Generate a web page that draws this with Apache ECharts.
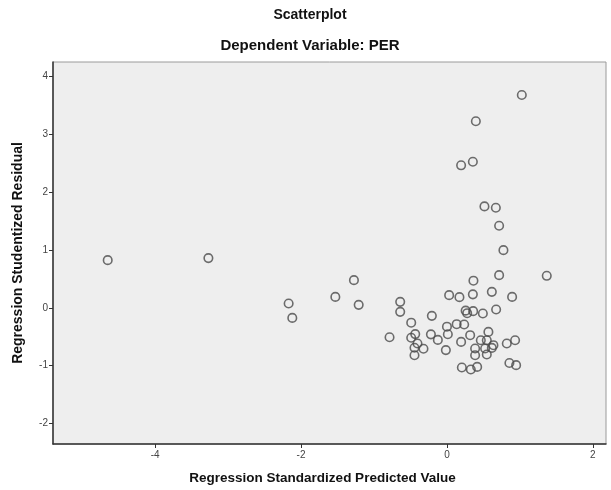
<!DOCTYPE html>
<html>
<head>
<meta charset="utf-8">
<script src="https://cdn.jsdelivr.net/npm/echarts@6/dist/echarts.min.js"></script>
<style>html,body{margin:0;padding:0;background:#fff}#c{width:611px;height:490px}</style>
</head>
<body>
<div id="c"></div>
<script>
const titleText = "Scatterplot";
const subtitleText = "Dependent Variable: PER";
const xAxisTitle = "Regression Standardized Predicted Value";
const yAxisTitle = "Regression Studentized Residual";
const xTicks = [-4, -2, 0, 2];
const yTicks = [-2, -1, 0, 1, 2, 3, 4];
const predicted = [
  -4.65, -3.27, -2.17, -2.12, -1.53, -1.275, -1.21,
  -0.641, -0.641, -0.49, -0.207, -0.787, -0.49, -0.435, -0.404, -0.445, -0.322, -0.445,
  -0.22, -0.125, 0.0, 0.012, -0.015, 0.133, 0.236, 0.194, 0.204, 0.327, 0.414,
  0.03, 0.171, 0.355, 0.615, 0.893, 0.363, 0.256, 0.277, 0.359, 0.492, 0.674,
  0.318, 0.568, 0.386, 0.464, 0.546, 0.523, 0.615, 0.637, 0.546, 0.386, 0.82, 0.934, 0.856, 0.948,
  1.026, 0.396, 0.194, 0.355, 0.514, 0.67, 0.715, 0.774, 0.715, 1.368
];
const residual = [
  0.825, 0.86, 0.076, -0.173, 0.19, 0.479, 0.052,
  0.104, -0.069, -0.256, -0.138, -0.507, -0.516, -0.453, -0.616, -0.69, -0.706, -0.818,
  -0.458, -0.554, -0.325, -0.455, -0.73, -0.282, -0.287, -0.588, -1.03, -1.066, -1.02,
  0.22, 0.185, 0.234, 0.277, 0.19, 0.47, -0.048, -0.092, -0.057, -0.097, -0.028,
  -0.472, -0.415, -0.702, -0.559, -0.559, -0.702, -0.692, -0.645, -0.806, -0.818, -0.616, -0.559, -0.952, -0.99,
  3.68, 3.225, 2.464, 2.526, 1.754, 1.73, 1.419, 0.998, 0.566, 0.554
];
const points = predicted.map((x, i) => [x, residual[i]]);

const chart = echarts.init(document.getElementById('c'), null, {renderer: 'canvas'});
const fam = 'Liberation Sans, Arial, sans-serif';
const labelFont = {fontFamily: fam, fontSize: 10, color: '#444'};
chart.setOption({
  animation: false,
  backgroundColor: '#ffffff',
  title: [
    {text: titleText, left: 305, textAlign: 'center', top: 3,
     textStyle: {fontFamily: fam, fontWeight: 'bold', fontSize: 14, color: '#111'}},
    {text: subtitleText, left: 305, textAlign: 'center', top: 33,
     textStyle: {fontFamily: fam, fontWeight: 'bold', fontSize: 15, color: '#111'}}
  ],
  grid: {left: 53, top: 62, right: 5, bottom: 46, show: true,
         backgroundColor: '#eeeeee', borderColor: '#9a9a9a', borderWidth: 1},
  xAxis: {
    type: 'value', min: -5.4, max: 2.18,
    name: xAxisTitle, nameLocation: 'middle', nameGap: 27,
    nameTextStyle: {fontFamily: fam, fontWeight: 'bold', fontSize: 13.5, color: '#111', padding: [0, 14, 0, 0]},
    axisLine: {show: true, onZero: false, lineStyle: {color: '#333', width: 1.5}},
    axisTick: {show: true, length: 4, customValues: xTicks, lineStyle: {color: '#333'}},
    axisLabel: Object.assign({customValues: xTicks, margin: 6}, labelFont),
    splitLine: {show: false}
  },
  yAxis: {
    type: 'value', min: -2.353, max: 4.25,
    name: yAxisTitle, nameLocation: 'middle', nameGap: 28, nameRotate: 90,
    nameTextStyle: {fontFamily: fam, fontWeight: 'bold', fontSize: 14, color: '#111'},
    axisLine: {show: true, onZero: false, lineStyle: {color: '#333', width: 1.5}},
    axisTick: {show: true, length: 4, customValues: yTicks, lineStyle: {color: '#333'}},
    axisLabel: Object.assign({customValues: yTicks, margin: 5}, labelFont),
    splitLine: {show: false}
  },
  series: [{
    type: 'scatter',
    data: points,
    symbol: 'circle',
    symbolSize: 8.5,
    itemStyle: {color: 'rgba(0,0,0,0)', borderColor: '#4a4a4a', borderWidth: 1.6}
  }]
});
</script>
</body>
</html>
